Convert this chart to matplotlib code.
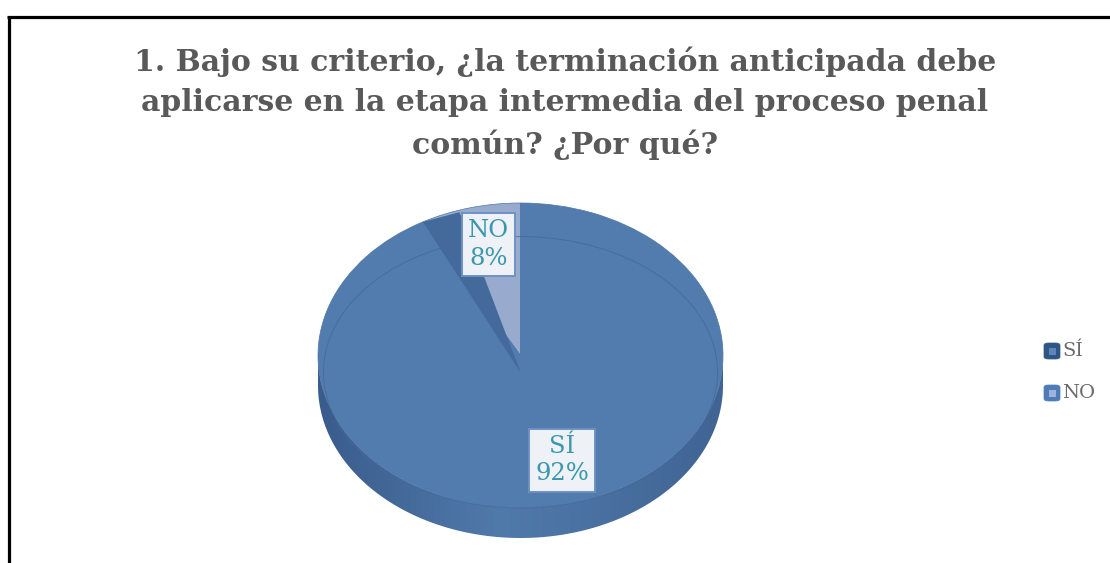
import numpy as np
import matplotlib
matplotlib.use("Agg")
import matplotlib.pyplot as plt
from matplotlib.patches import Polygon, Ellipse, FancyBboxPatch, Rectangle
from matplotlib.lines import Line2D

# ---------------- data ----------------
title = "1. Bajo su criterio, ¿la terminación anticipada debe\naplicarse en la etapa intermedia del proceso penal\ncomún? ¿Por qué?"
categories = ["SÍ", "NO"]
values = [92, 8]
percent_labels = ["92%", "8%"]

# colours
top_colors = {"SÍ": "#527cad", "NO": "#98abcf"}
legend_colors = {"SÍ": ("#2f5584", "#5b86bb"), "NO": ("#4f7bb8", "#9fb3d8")}
label_color = "#3a97ad"
text_gray = "#595959"
SERIF = "DejaVu Serif"

W, H = 1110, 563
fig = plt.figure(figsize=(W / 100, H / 100), dpi=100)
fig.patch.set_facecolor("white")

# frame (partially cropped, as in reference)
fig.add_artist(Line2D([8.5 / W, 8.5 / W], [0, 1 - 16.5 / H], color="black", lw=2.3,
                      transform=fig.transFigure, solid_capstyle="butt"))
fig.add_artist(Line2D([7.3 / W, 1.0], [1 - 16.5 / H, 1 - 16.5 / H], color="black", lw=2.3,
                      transform=fig.transFigure, solid_capstyle="butt"))

# title
fig.text(565 / W, 1 - 103 / H, title, ha="center", va="center", fontsize=21.5,
         fontweight="bold", color=text_gray, family=SERIF, linespacing=1.5)

# ---------------- pie axes (ellipse by unequal scaling) ----------------
thick = 0.197  # wall thickness in y-units of pie axes
x0, x1 = 318, 723
ytop, ybot = 203, 538
ax = fig.add_axes([x0 / W, 1 - ybot / H, (x1 - x0) / W, (ybot - ytop) / H])

# top face: NO first, from 12 o'clock counter-clockwise
order = ["NO", "SÍ"]
vals = [values[categories.index(c)] for c in order]
wedges, _ = ax.pie(vals, startangle=90, counterclock=True, radius=1.0,
                   colors=[top_colors[c] for c in order],
                   wedgeprops=dict(edgecolor="#4d76a7", linewidth=0.5))
for w_ in wedges:
    w_.set_zorder(2)
ax.set_aspect("auto")
ax.set_xlim(-1, 1)
ax.set_ylim(-1 - thick, 1)
ax.axis("off")

# side wall (lower half of cylinder)
th = np.linspace(np.pi, 2 * np.pi, 200)
wall = np.concatenate([np.c_[np.cos(th), np.sin(th)],
                       np.c_[np.cos(th[::-1]), np.sin(th[::-1]) - thick]])
wall_patch = Polygon(wall, closed=True, facecolor="none", edgecolor="none")
ax.add_patch(wall_patch)
grad_x = np.linspace(0, 1, 256)
c_left = np.array([58, 92, 140]) / 255
c_mid = np.array([80, 122, 170]) / 255
c_right = np.array([64, 100, 148]) / 255
rgb = np.where(grad_x[:, None] < 0.45,
               c_left + (c_mid - c_left) * (grad_x[:, None] / 0.45),
               c_mid + (c_right - c_mid) * ((grad_x[:, None] - 0.45) / 0.55))
img = ax.imshow(rgb[None, :, :], extent=(-1, 1, -1 - thick, 0.05), aspect="auto",
                zorder=1, interpolation="bilinear")
img.set_clip_path(wall_patch)
ax.set_aspect("auto")
ax.set_xlim(-1, 1)
ax.set_ylim(-1 - thick, 1)

# radial cut face of SÍ slice next to NO slice
total = sum(values)
ang_no_end = 90 + 360 * values[categories.index("NO")] / total
a1 = np.deg2rad(ang_no_end)
a2 = np.deg2rad(ang_no_end - 10.5)
cut = Polygon([[0, -0.11], [np.cos(a1), np.sin(a1)], [np.cos(a2) * 0.96, np.sin(a2) * 0.99]],
              closed=True, facecolor="#44699b", edgecolor="none", zorder=3)
ax.add_patch(cut)

# bevel inner line
ax.add_patch(Ellipse((0, -0.11), 2 * 0.973, 2 * 0.89, facecolor="none",
                     edgecolor="#44699a", linewidth=0.7, alpha=0.8, zorder=3))

# data labels
start = 90
mids = {}
for c, v in zip(order, vals):
    mids[c] = start + 360 * v / total / 2
    start += 360 * v / total
label_r = {"SÍ": 0.74, "NO": 0.72}
shift_x, shift_y = 0.022, 0.03
for c, p in zip(categories, percent_labels):
    a = np.deg2rad(mids[c])
    ax.text(np.cos(a) * label_r[c] + shift_x, np.sin(a) * label_r[c] + shift_y, f"{c}\n{p}",
            ha="center", va="center", fontsize=17.5, color=label_color,
            family=SERIF, linespacing=1.25, zorder=6,
            bbox=dict(boxstyle="square,pad=0.25", facecolor="#eef1f6",
                      edgecolor="#6d92c2", linewidth=1.4))

# ---------------- legend ----------------
leg_y = [351, 393]
for c, y in zip(categories, leg_y):
    outer, inner = legend_colors[c]
    fig.add_artist(FancyBboxPatch(((1044) / W, 1 - (y + 8) / H), 16 / W, 16 / H,
                                  boxstyle="round,pad=0,rounding_size=0.004",
                                  transform=fig.transFigure, facecolor=outer,
                                  edgecolor=outer, linewidth=0.5))
    fig.add_artist(Rectangle(((1048.5) / W, 1 - (y + 3.5) / H), 7 / W, 7 / H,
                             transform=fig.transFigure, facecolor=inner, edgecolor="none"))
    fig.text(1062 / W, 1 - y / H, c, ha="left", va="center", fontsize=14,
             color="#6b6b6b", family=SERIF)

fig.savefig("out.png", dpi=100, facecolor="white")
